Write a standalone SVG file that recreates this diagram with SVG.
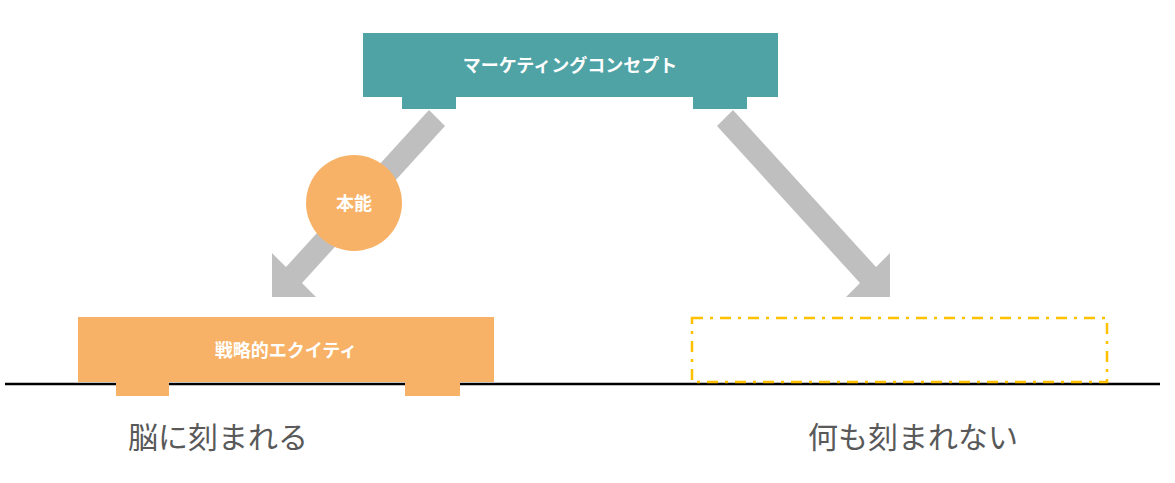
<svg xmlns="http://www.w3.org/2000/svg" width="1175" height="483" viewBox="0 0 1175 483">
<style>
.t{font-family:"Noto Sans CJK JP","Liberation Sans",sans-serif;fill:#fff;font-size:18px;font-weight:bold;text-anchor:middle}
.b{font-family:"Noto Sans CJK JP","Liberation Sans",sans-serif;fill:#595959;font-size:30px;text-anchor:middle}
.arr{fill:#bfbfbf}
</style>
<rect width="1175" height="483" fill="#fff"/>
<g id="connectors">
<polygon class="arr" points="429,110 445,126 302,283 316,297 272,297 272,253 286,267"/>
<polygon class="arr" points="733,110 717,126 860,283 846,297 890,297 890,253 876,267"/>
</g>
<g id="concept">
<rect x="402" y="95" width="54" height="14" fill="#4fa3a5"/>
<rect x="693" y="95" width="54" height="14" fill="#4fa3a5"/>
<rect x="363" y="33" width="415" height="64" fill="#4fa3a5"/>
<text class="t" x="570" y="72">マーケティングコンセプト</text>
</g>
<g id="instinct">
<circle cx="354" cy="203" r="48" fill="#f7b267"/>
<text class="t" x="354" y="210" font-size="19">本能</text>
</g>
<line x1="5" y1="384" x2="1160" y2="384" stroke="#000" stroke-width="2.5"/>
<g id="equity">
<rect x="116" y="380" width="53" height="16" fill="#f7b267"/>
<rect x="405" y="380" width="55" height="16" fill="#f7b267"/>
<rect x="78" y="317" width="416" height="65" fill="#f7b267"/>
<text class="t" x="286" y="357">戦略的エクイティ</text>
</g>
<g id="empty">
<rect x="692" y="318" width="415" height="64" fill="none" stroke="#ffc000" stroke-width="2.5" stroke-dasharray="11 7 3 7"/>
</g>
<text class="b" x="218" y="448">脳に刻まれる</text>
<text class="b" x="913" y="448">何も刻まれない</text>
</svg>
